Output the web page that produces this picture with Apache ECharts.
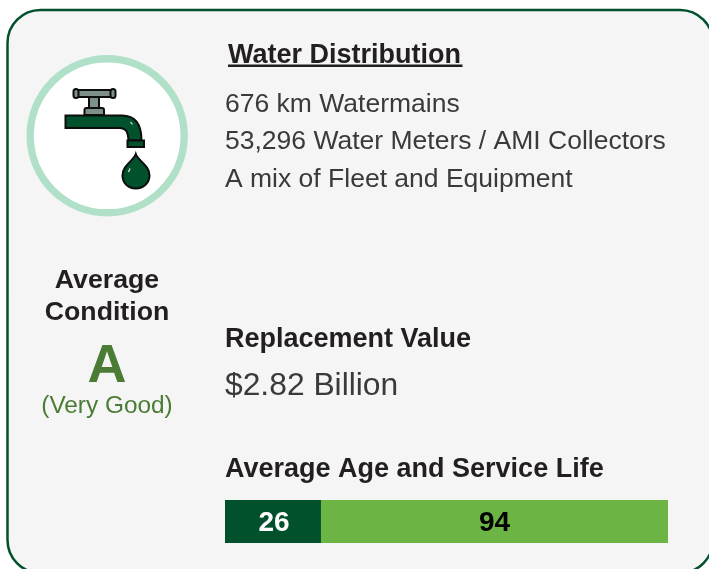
<!DOCTYPE html>
<html>
<head>
<meta charset="utf-8">
<style>
  html, body { margin: 0; padding: 0; background: #fff; }
  #main { width: 709px; height: 569px; }
</style>
</head>
<body>
<div id="main"></div>
<script src="https://cdn.jsdelivr.net/npm/echarts@6/dist/echarts.min.js"></script>
<script>
const title = 'Water Distribution';
const assetLines = ['676 km Watermains', '53,296 Water Meters / AMI Collectors', 'A mix of Fleet and Equipment'];
const conditionLabel = ['Average', 'Condition'];
const conditionGrade = 'A';
const conditionText = '(Very Good)';
const replacementLabel = 'Replacement Value';
const replacementValue = '$2.82 Billion';
const lifeLabel = 'Average Age and Service Life';
const categories = ['Water Distribution'];
const averageAge = [26];
const remainingLife = [94];

const FONT = '"Liberation Sans", Arial, sans-serif';
const DARK_GREEN = '#00512c';
const LIGHT_GREEN = '#6cb444';
const GRADE_GREEN = '#4a7c35';

function label(text, x, y, size, weight, fill, align) {
  return {
    type: 'text',
    x: x,
    y: y,
    style: {
      text: text,
      font: weight + ' ' + size + 'px ' + FONT,
      fill: fill,
      align: align || 'left',
      verticalAlign: 'middle'
    }
  };
}

// faucet icon
echarts.graphic.registerShape('faucetBase', echarts.graphic.extendPath('M84.5 115 L84.5 110 Q84.5 108 86.5 108 L102 108 Q104 108 104 110 L104 115 Z'));
echarts.graphic.registerShape('faucetSpout', echarts.graphic.extendPath('M65.5 115.5 L122 115.5 C135 115.5 141.5 124 141.5 140.5 L128.5 140.5 C128 132 126 128 120 128 L65.5 128 Z'));
echarts.graphic.registerShape('waterDrop', echarts.graphic.extendPath('M135.8 154 C138 161 149.5 165 149.5 175.5 C149.5 183 143.5 188.5 135.8 188.5 C128 188.5 122.5 183 122.5 175.5 C122.5 165 133.5 161 135.8 154 Z'));

function iconPart(type, shape, fill) {
  return { type: type, shape: shape, style: { fill: fill, stroke: '#0d0d0d', lineWidth: 2 } };
}

function glint(x1, y1, x2, y2) {
  return { type: 'line', shape: { x1: x1, y1: y1, x2: x2, y2: y2 }, style: { stroke: '#e8f2ec', lineWidth: 1.2 } };
}

const icon = [
  { type: 'circle', shape: { cx: 107.2, cy: 135.8, r: 77 }, style: { fill: '#fff', stroke: '#b1e0c8', lineWidth: 7.4 } },
  iconPart('rect', { x: 89, y: 96, width: 10, height: 13 }, '#7f8f8a'),
  iconPart('rect', { x: 74, y: 90, width: 41, height: 7, r: 2 }, '#7f8f8a'),
  iconPart('rect', { x: 73.5, y: 89, width: 5, height: 9, r: 2.5 }, '#7f8f8a'),
  iconPart('rect', { x: 110.5, y: 89, width: 5, height: 9, r: 2.5 }, '#7f8f8a'),
  iconPart('faucetBase', {}, '#7f8f8a'),
  iconPart('faucetSpout', {}, DARK_GREEN),
  iconPart('rect', { x: 127.5, y: 140.5, width: 16.5, height: 6.5 }, DARK_GREEN),
  iconPart('waterDrop', {}, DARK_GREEN),
  glint(130.5, 122, 132.5, 124.5),
  glint(128.5, 172, 130, 168.5)
];

const texts = [
  label(title, 228, 55.5, 27, 'bold', '#231f20'),
  { type: 'rect', shape: { x: 228, y: 64.5, width: 234.5, height: 2.4 }, style: { fill: '#231f20' } },
  label(assetLines[0], 225, 104.5, 26.5, 'normal', '#3a3a3a'),
  label(assetLines[1], 225, 141.5, 26.5, 'normal', '#3a3a3a'),
  label(assetLines[2], 225, 179.5, 26.5, 'normal', '#3a3a3a'),
  label(conditionLabel[0], 107, 280.5, 26.7, 'bold', '#231f20', 'center'),
  label(conditionLabel[1], 107, 312.5, 26.7, 'bold', '#231f20', 'center'),
  label(conditionGrade, 107, 367, 54, 'bold', GRADE_GREEN, 'center'),
  label(conditionText, 107, 406.5, 24.4, 'normal', GRADE_GREEN, 'center'),
  label(replacementLabel, 225, 339.5, 27, 'bold', '#231f20'),
  label(replacementValue, 225, 386.5, 31.8, 'normal', '#3a3a3a'),
  label(lifeLabel, 225, 469.5, 27, 'bold', '#231f20')
];

const chart = echarts.init(document.getElementById('main'), null, { renderer: 'canvas' });
chart.setOption({
  animation: false,
  backgroundColor: '#fff',
  grid: { left: 225, top: 500, width: 443, height: 43 },
  xAxis: { type: 'value', min: 0, max: 120, show: false },
  yAxis: { type: 'category', data: categories, show: false },
  graphic: {
    elements: [
      {
        type: 'rect',
        z: -10,
        silent: true,
        shape: { x: 7.5, y: 10, width: 705.5, height: 563, r: 33 },
        style: { fill: '#f5f5f5', stroke: DARK_GREEN, lineWidth: 2.5 }
      }
    ].concat(icon, texts)
  },
  series: [
    {
      type: 'bar',
      stack: 'life',
      z: 5,
      barWidth: 43,
      data: averageAge,
      itemStyle: { color: DARK_GREEN },
      label: { show: true, position: 'inside', offset: [1, 2], color: '#fff', fontFamily: FONT, fontWeight: 'bold', fontSize: 28 }
    },
    {
      type: 'bar',
      stack: 'life',
      z: 5,
      barWidth: 43,
      data: remainingLife,
      itemStyle: { color: LIGHT_GREEN },
      label: { show: true, position: 'inside', offset: [0, 2], color: '#000', fontFamily: FONT, fontWeight: 'bold', fontSize: 28 }
    }
  ]
});
</script>
</body>
</html>
